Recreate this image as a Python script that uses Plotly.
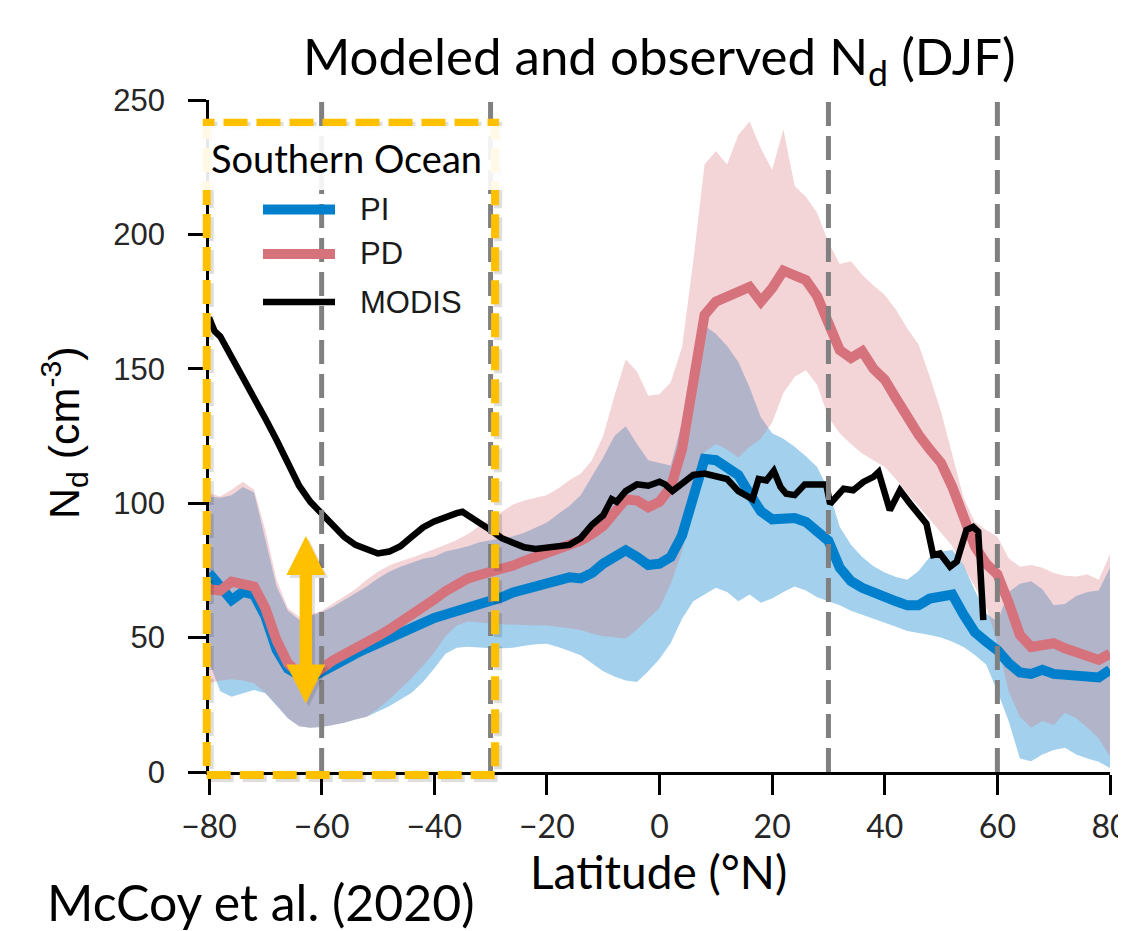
import plotly.graph_objects as go

# ---------------- data ----------------
LAT = [-80, -78, -76, -74, -72, -70, -68, -66, -64, -62, -60, -58, -56, -54, -52, -50,
       -48, -46, -44, -42, -40, -38, -36, -34, -32, -30, -28, -26, -24, -22, -20, -18,
       -16, -14, -12, -10, -8, -6, -4, -2, 0, 2, 4, 6, 8, 10, 12, 14, 16, 18, 20, 22,
       24, 26, 28, 30, 32, 34, 36, 38, 40, 42, 44, 46, 48, 50, 52, 54, 56, 58, 60, 62,
       64, 66, 68, 70, 72, 74, 76, 78, 80]

PI_MEAN = [74, 68.5, 64, 67, 66, 58, 45.5, 38.5, 36, 35, 37.5, 39.8, 42, 44, 46, 48,
           49.7, 51.6, 53.5, 55.5, 57.3, 58.6, 59.8, 61, 62.2, 63.6, 65, 66.8, 68, 69.5, 70.7, 71.8,
           72.4, 72, 74, 77.5, 80, 82.5, 80, 77, 77.5, 80, 88, 103, 116.5, 116, 113, 110.5, 103.5, 97, 94, 94,
           94.5, 93, 90, 86, 76, 71, 68.5, 66.5, 65.5, 63.5, 62, 62, 64.5, 65.5, 66, 58.5, 52, 48.5, 45.3, 40.5,
           37, 36.5, 38, 36.5, 36, 36, 35.7, 35.2, 38]

PD_MEAN = [68, 67.5, 70.8, 69.8, 69, 61, 49, 40.5, 36.5, 35.5, 38.8, 41.5, 43.8, 45.8, 47.9, 50.5,
           53, 55.6, 58.5, 61.2, 64.2, 67.3, 70, 72, 73.3, 74.2, 75.5, 76.8, 78.5, 80, 81, 83,
           84.5, 86, 88.5, 91.5, 96.5, 101.5, 101, 98.5, 100.5, 106, 120, 147, 170, 175, 177, 178, 180.5, 175, 180, 186.5,
           184.5, 183, 177, 166, 157, 154, 156.5, 150, 146, 139, 131.5, 125.5, 120, 115, 106, 95, 84, 77.5, 73.5, 63,
           51, 46.5, 47.3, 47.9, 46, 44.6, 43, 41.7, 44]

PI_HIGH = [102.5, 102, 103, 106, 104, 87, 69, 60, 56.6, 58, 59.5, 61.5, 64, 66.5, 69, 72,
           74.5, 76.4, 78, 79.3, 80.1, 82, 83, 84, 85.5, 86.3, 87, 87.7, 89, 91, 92.8, 96,
           99, 103, 110, 117, 125, 128.6, 122, 116, 115, 114, 130, 150, 166, 163, 158.5, 152.5, 143, 132, 126, 124,
           121, 117.5, 113.5, 105, 91.2, 84.5, 80, 76.5, 74.2, 72.5, 71.5, 74.8, 80, 82, 82.6, 77, 67.5, 59, 56, 67,
           70, 71, 68, 62, 62.5, 65.5, 67, 67.5, 76]

PI_LOW = [41, 30, 28, 29.3, 30.5, 29.3, 24.5, 20, 17, 16.5, 16.7, 17.5, 18.3, 19.5, 20.6, 22.5,
          24.5, 27, 29.5, 33.5, 38.5, 44, 46.2, 46.6, 46.3, 46, 46, 46.2, 47, 47.5, 47.7, 46.5,
          45, 43.4, 40.5, 37.5, 35.5, 34, 33.5, 37.5, 42, 48, 57, 63.5, 66, 68.5, 67, 63.5, 66, 63, 64.5, 67,
          69, 67.5, 65, 63.5, 62, 60, 58.3, 57, 55.5, 54, 52.5, 51.7, 51, 50, 48.5, 46.5, 43.5, 40, 30, 19,
          5, 4, 6.5, 8.2, 9, 6.5, 5, 3.8, 1.5]

PD_HIGH = [103.7, 102.5, 105, 108, 105, 90, 71.5, 61, 57.8, 58.5, 60, 62.8, 65.3, 68, 71.5, 74.5,
           76.8, 78.4, 79.7, 81.3, 82.8, 84.5, 86.3, 88.5, 91.5, 94, 96.8, 99.5, 101, 102, 103, 105.5,
           108.5, 111, 116, 125, 140, 153.5, 149, 140, 140.5, 145, 158, 190, 226, 231, 226, 237, 242, 232, 224, 239,
           218, 214, 208, 197, 189, 190, 185, 181, 177.5, 172, 165, 159, 147, 134, 118, 102, 93, 90, 87.5, 79.5,
           76.4, 77, 76, 74, 73, 72.7, 73.5, 71.5, 81]

PD_LOW = [33, 34, 34.5, 34, 33, 29.5, 25, 20, 17, 16.5, 16.7, 17.5, 18.3, 19.5, 20.6, 23.5,
          27, 31, 35, 39.5, 44.5, 50.5, 54.5, 56, 55.7, 55.3, 55, 54.8, 54.6, 54.5, 54.5, 54,
          53.5, 52.8, 51.5, 50.5, 50, 49.7, 53, 57, 61, 70, 82, 100, 119, 122, 120, 117, 121, 124, 130, 141,
          147, 149.5, 144, 132, 126, 122, 118.5, 116, 113.5, 109, 103.5, 99, 94, 89, 84, 77, 69, 61.5, 48, 30,
          20.6, 16.5, 19, 17.5, 22, 20, 16.5, 12.5, 5.7]

MODIS_LAT = [-80, -79, -78, -76, -74, -72, -70, -68, -66, -64, -62, -60, -58, -56, -54, -52, -50,
             -48, -46, -44, -42, -40, -38, -36, -35, -34, -32, -30, -28, -26, -24, -22, -20, -18,
             -16, -14, -12, -10, -9, -8.5, -7.6, -6, -4, -2, 0, 1, 2.3, 4, 6, 8, 10, 12, 14, 16.5,
             17.6, 19, 20.3, 21.5, 22.5, 24, 25.8, 28.8, 29.6, 30.3, 31, 32.7, 34.4, 36.2, 38,
             38.9, 40.9, 42.7, 44.5, 46.3, 47.4, 48.6, 49.8, 51.6, 52.8, 54.5, 55.7, 56.6, 57.5]
MODIS = [169, 164, 162, 154.5, 147.5, 139.5, 131.5, 123.5, 115.5, 106.5, 100.5, 96, 91.3, 87.5, 84.5, 82.6, 81.3,
         82, 84, 87.5, 91, 93.2, 95, 96.3, 96.8, 95.5, 93, 90, 87, 85, 83.6, 83, 83.3, 84,
         84.5, 87, 92, 95.5, 99, 101.5, 100.5, 104.5, 107, 106.5, 108, 107, 104.5, 107, 110.5, 111, 110, 109, 104.5, 101.5,
         109, 108.5, 112, 106, 103.5, 103, 107, 107, 107, 99.8, 101.5, 105.4, 104.8, 107.9, 109.8,
         111.6, 97.4, 104.8, 99.8, 94.9, 92.4, 80.7, 81.3, 76.4, 78.3, 90, 91.2, 89.4, 56.5]

X_TICKS = [-80, -60, -40, -20, 0, 20, 40, 60, 80]
X_TICK_LABELS = ["\u221280", "\u221260", "\u221240", "\u221220", "0", "20", "40", "60", "80"]
Y_TICKS = [0, 50, 100, 150, 200, 250]
Y_TICK_LABELS = ["0", "50", "100", "150", "200", "250"]
REGION_LINES = [-60, -30, 30, 60]
SO_BOX_LAT = [-80.4, -29.2]
SO_BOX_TOP = 241.5
ARROW_LAT = -62.8
ARROW_RANGE = [25.5, 87.8]
SERIES_NAMES = ["PI", "PD", "MODIS"]

# ---------------- styling ----------------
PI_COLOR = "#0080CC"
PD_COLOR = "#D6727C"
PI_FILL = "rgba(0,128,204,0.36)"
PD_FILL = "rgba(214,114,124,0.30)"
ORANGE = "#FFC000"
XMIN, XMAX, YMIN, YMAX = -80, 80, 0, 250

# the page body has an 8px margin: the figure starts at page pixel (8, 8)
OFF = 8
W, H = 1126 - OFF, 931 - OFF
ML, MR, MT, MB = 209 - OFF, 16, 100 - OFF, 159
PW, PH = W - ML - MR, H - MT - MB


def px_x(px):
    """page pixel x -> paper coordinate"""
    return (px - OFF - ML) / PW


def px_y(py):
    """page pixel y -> paper coordinate"""
    return (MT + PH - (py - OFF)) / PH


def lat_paper(lat):
    return (lat - XMIN) / (XMAX - XMIN)


def val_paper(v):
    return (v - YMIN) / (YMAX - YMIN)


fig = go.Figure()

# uncertainty bands
fig.add_trace(go.Scatter(x=LAT + LAT[::-1], y=PI_HIGH + PI_LOW[::-1], fill="toself",
                         fillcolor=PI_FILL, line=dict(width=0), mode="lines",
                         hoverinfo="skip", showlegend=False))
fig.add_trace(go.Scatter(x=LAT + LAT[::-1], y=PD_HIGH + PD_LOW[::-1], fill="toself",
                         fillcolor=PD_FILL, line=dict(width=0), mode="lines",
                         hoverinfo="skip", showlegend=False))
# means
fig.add_trace(go.Scatter(x=LAT, y=PI_MEAN, mode="lines", name="PI",
                         line=dict(color=PI_COLOR, width=10), showlegend=False))
fig.add_trace(go.Scatter(x=LAT, y=PD_MEAN, mode="lines", name="PD",
                         line=dict(color=PD_COLOR, width=10), showlegend=False))
fig.add_trace(go.Scatter(x=MODIS_LAT, y=MODIS, mode="lines", name="MODIS",
                         line=dict(color="black", width=6.5), showlegend=False))

shapes = []
for lat in REGION_LINES:
    shapes.append(dict(type="line", xref="x", yref="paper", x0=lat, x1=lat, y0=0, y1=1.004,
                       line=dict(color="#808080", width=5, dash="24px,10px"), layer="above"))

# Southern Ocean highlight box (shadow + box)
bx0, bx1 = lat_paper(SO_BOX_LAT[0]), lat_paper(SO_BOX_LAT[1])
by0, by1 = val_paper(-1.1), val_paper(SO_BOX_TOP)
sdx, sdy = 3 / PW, 3 / PH
shapes.append(dict(type="rect", xref="paper", yref="paper", x0=bx0 + sdx, x1=bx1 + sdx,
                   y0=by0 - sdy, y1=by1 - sdy,
                   line=dict(color="rgba(0,0,0,0.13)", width=8, dash="24px,9px"), layer="above"))
shapes.append(dict(type="rect", xref="paper", yref="paper", x0=bx0, x1=bx1, y0=by0, y1=by1,
                   line=dict(color=ORANGE, width=8, dash="24px,9px"), layer="above"))

# orange double-headed arrow
c = ARROW_LAT
b, t = ARROW_RANGE
hl, hh, sh = 14.5, 3.45, 1.1
path = (f"M {c-sh},{b+hl} L {c-hh},{b+hl} L {c},{b} L {c+hh},{b+hl} L {c+sh},{b+hl} "
        f"L {c+sh},{t-hl} L {c+hh},{t-hl} L {c},{t} L {c-hh},{t-hl} L {c-sh},{t-hl} Z")
dx, dy = 0.5, -1.1
shadow = (f"M {c-sh+dx},{b+hl+dy} L {c-hh+dx},{b+hl+dy} L {c+dx},{b+dy} L {c+hh+dx},{b+hl+dy} L {c+sh+dx},{b+hl+dy} "
          f"L {c+sh+dx},{t-hl+dy} L {c+hh+dx},{t-hl+dy} L {c+dx},{t+dy} L {c-hh+dx},{t-hl+dy} L {c-sh+dx},{t-hl+dy} Z")
shapes.append(dict(type="path", xref="x", yref="y", path=shadow,
                   fillcolor="rgba(0,0,0,0.12)", line=dict(width=0), layer="above"))
shapes.append(dict(type="path", xref="x", yref="y", path=path,
                   fillcolor=ORANGE, line=dict(width=0), layer="above"))

# white label box behind "Southern Ocean"
shapes.append(dict(type="rect", xref="paper", yref="paper", x0=px_x(201), x1=px_x(520),
                   y0=px_y(190), y1=px_y(126), fillcolor="rgba(255,255,255,0.9)",
                   line=dict(width=0), layer="above"))

# legend keys
key_cols = [PI_COLOR, PD_COLOR, "black"]
key_w = [10, 10, 6.5]
key_y = [209.5, 254, 302]
for col, lw, ky in zip(key_cols, key_w, key_y):
    shapes.append(dict(type="line", xref="paper", yref="paper", x0=px_x(263), x1=px_x(335),
                       y0=px_y(ky), y1=px_y(ky), line=dict(color=col, width=lw), layer="above"))

annotations = []
for name, ky in zip(SERIES_NAMES, key_y):
    annotations.append(dict(text=name, xref="paper", yref="paper", x=px_x(358), y=px_y(ky),
                            xanchor="left", yanchor="middle", showarrow=False,
                            font=dict(family="Liberation Sans, Arial, sans-serif", size=31, color="#1a1a1a")))
annotations.append(dict(text="Southern Ocean", xref="paper", yref="paper", x=px_x(209), y=px_y(158),
                        xanchor="left", yanchor="middle", showarrow=False,
                        font=dict(family="Lato, sans-serif", size=38, color="black")))
annotations.append(dict(text="Modeled and observed N<sub>d</sub> (DJF)", xref="paper", yref="paper",
                        x=px_x(659), y=px_y(59), xanchor="center", yanchor="middle", showarrow=False,
                        font=dict(family="Lato, sans-serif", size=51, color="black")))
annotations.append(dict(text="Latitude (\u00b0N)", xref="paper", yref="paper",
                        x=px_x(658), y=px_y(871), xanchor="center", yanchor="middle", showarrow=False,
                        font=dict(family="Lato, sans-serif", size=46, color="black")))
annotations.append(dict(text="McCoy et al. (2020)", xref="paper", yref="paper",
                        x=px_x(45), y=px_y(902), xanchor="left", yanchor="middle", showarrow=False,
                        font=dict(family="Lato, sans-serif", size=50, color="black")))
annotations.append(dict(text="N<sub>d</sub> (cm<sup>-3</sup>)", xref="paper", yref="paper",
                        x=px_x(64), y=px_y(433), xanchor="center", yanchor="middle", showarrow=False,
                        textangle=-90,
                        font=dict(family="Liberation Sans, Arial, sans-serif", size=43, color="black")))

fig.update_layout(
    width=W, height=H,
    margin=dict(l=ML, r=MR, t=MT, b=MB, pad=0, autoexpand=False),
    paper_bgcolor="white", plot_bgcolor="white",
    showlegend=False,
    shapes=shapes, annotations=annotations,
    xaxis=dict(range=[XMIN, XMAX], tickmode="array", tickvals=X_TICKS, ticktext=X_TICK_LABELS,
               showline=True, linecolor="black", linewidth=2.5, ticks="outside", ticklen=20,
               tickwidth=2.5, tickcolor="black", showgrid=False, zeroline=False,
               automargin=False,
               ticklabelstandoff=5, ticklabeloverflow="allow",
               tickfont=dict(family="Lato, sans-serif", size=32, color="#262626")),
    yaxis=dict(range=[YMIN, YMAX], tickmode="array", tickvals=Y_TICKS, ticktext=Y_TICK_LABELS,
               showline=True, linecolor="black", linewidth=2.5, ticks="outside", ticklen=18,
               tickwidth=2.5, tickcolor="black", showgrid=False, zeroline=False,
               automargin=False,
               ticklabelstandoff=17,
               tickfont=dict(family="Liberation Sans, Arial, sans-serif", size=31, color="#262626")),
)

fig.write_html("out.html")
